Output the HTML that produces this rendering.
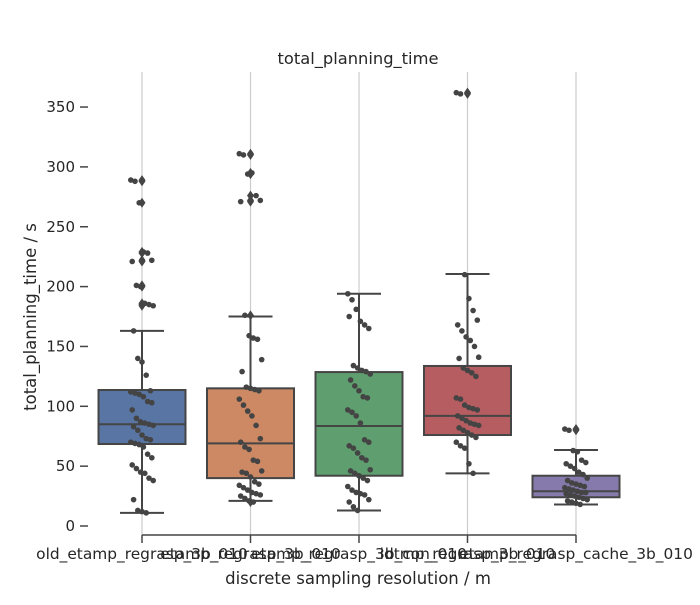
<!DOCTYPE html>
<html><head><meta charset="utf-8"><style>
body{margin:0;background:#fff;}
svg text{font-family:"DejaVu Sans","Liberation Sans",sans-serif;fill:#262626;}
</style></head><body>
<svg id="chart" width="700" height="600">
<text x="358" y="64" text-anchor="middle" font-size="16.3">total_planning_time</text>
<text x="358" y="584" text-anchor="middle" font-size="16.5">discrete sampling resolution / m</text>
<text transform="translate(36,317) rotate(-90)" text-anchor="middle" font-size="16.5">total_planning_time / s</text>
<g id="grid"></g><g id="boxes"></g><g id="pts"></g><g id="axes"></g>
</svg>
<script>
const categories=["old_etamp_regrasp_3b_010","etamp_regrasp_3b_010","etamp_regrasp_3b_con_010","idtmp_regrasp_3b_010","etamp_regrasp_cache_3b_010"];
const q1=[68.5,40,42,76,24];
const medians=[85,69,83.5,92,29];
const q3=[113.6,115,128.6,133.7,42];
const whiskLo=[11,21,13,44,18];
const whiskHi=[163,175,194,210.5,63.5];
const yTicks=[0,50,100,150,200,250,300,350];
const pts0=[289,288,270,229,228,222,221,201,200,186,185,184,163,140,137,126,113,112,111,110,108,104,103,97,90,87,86,85,84,83,80,76,73,72,70,69,68,66,60,57,51,48,45,44,40,38,22,13,12,11];
const pts1=[311,310,294,295,276,272,271,176,159,157,156,139,129,116,115,114,113,106,101,96,92,84,73,70,66,64,55,54,46,45,44,41,37,35,34,32,30,28,27,26,25,23,21,20];
const pts2=[194,189,181,171,168,165,175,134,132,130,129,127,122,117,113,108,107,97,95,92,86,72,70,67,65,61,57,55,47,46,44,42,40,38,33,30,28,27,26,22,20,16,13];
const pts3=[362,361,210,190,180,172,168,163,158,155,150,141,140,132,130,128,125,107,106,101,99,98,97,92,90,88,86,85,84,82,80,78,76,74,70,67,65,52,44];
const pts4=[81,80,63,62,55,53,52,50,48,45,43,40,38,36,35,34,33,32,31,30,29,28,28,27,26,25,24,23,22,21,20,19,18];
const points=[pts0,pts1,pts2,pts3,pts4];
const colors=["#5875a4","#cc8963","#5f9e6e","#b55d60","#857aab"];
const NS="http://www.w3.org/2000/svg";
const y=v=>526-v*1.197;
const x=i=>142+i*108.5;
const bw=87;
function mk(tag,attrs,parent){const e=document.createElementNS(NS,tag);for(const k in attrs)e.setAttribute(k,attrs[k]);document.getElementById(parent).appendChild(e);return e;}
categories.forEach((c,i)=>{
  const g=mk("line",{x1:x(i),x2:x(i),y1:72,y2:535,stroke:"#cccccc","stroke-width":1.2},"grid");
  
  
  const cx=x(i),e="#454545";
  const wl=mk("line",{x1:cx,x2:cx,y1:y(q3[i]),y2:y(whiskHi[i]),stroke:e,"stroke-width":2},"boxes");
  
  
  const wl2=mk("line",{x1:cx,x2:cx,y1:y(q1[i]),y2:y(whiskLo[i]),stroke:e,"stroke-width":2},"boxes");
  
  
  [whiskHi[i],whiskLo[i]].forEach(v=>{const cap=mk("line",{x1:cx-22,x2:cx+22,y1:y(v),y2:y(v),stroke:e,"stroke-width":2},"boxes");
    
    });
  const b=mk("rect",{x:cx-bw/2,y:y(q3[i]),width:bw,height:y(q1[i])-y(q3[i]),fill:colors[i],stroke:e,"stroke-width":2},"boxes");
  
  
  const m=mk("line",{x1:cx-bw/2,x2:cx+bw/2,y1:y(medians[i]),y2:y(medians[i]),stroke:e,"stroke-width":2},"boxes");
  
  
  points[i].forEach((v,j)=>{
    if(v>whiskHi[i]||v<whiskLo[i]){const yy=y(v);
      const d=mk("polygon",{points:`${cx},${yy-5} ${cx+3.5},${yy} ${cx},${yy+5} ${cx-3.5},${yy}`,fill:"#454545"},"pts");
      
      }
    const jit=((j*37)%17-8)*1.4;
    const p=mk("circle",{cx:cx+jit,cy:y(v),r:2.8,fill:"#444444"},"pts");
    
    
  });
  const t=mk("line",{x1:cx,x2:cx,y1:535,y2:543,stroke:"#454545","stroke-width":1.5},"axes");
  
  
  const l=mk("text",{x:cx,y:559,"text-anchor":"middle","font-size":15.4},"axes");
  l.textContent=c;
  
  
});
const sp=mk("line",{x1:x(0),x2:x(4),y1:535,y2:535,stroke:"#454545","stroke-width":1.5},"axes");


yTicks.forEach(v=>{
  const t=mk("line",{x1:80,x2:88,y1:y(v),y2:y(v),stroke:"#454545","stroke-width":1.5},"axes");
  
  
  const l=mk("text",{x:75,y:y(v)+5,"text-anchor":"end","font-size":15},"axes");
  l.textContent=v;
  
  
});
</script>
</body></html>
